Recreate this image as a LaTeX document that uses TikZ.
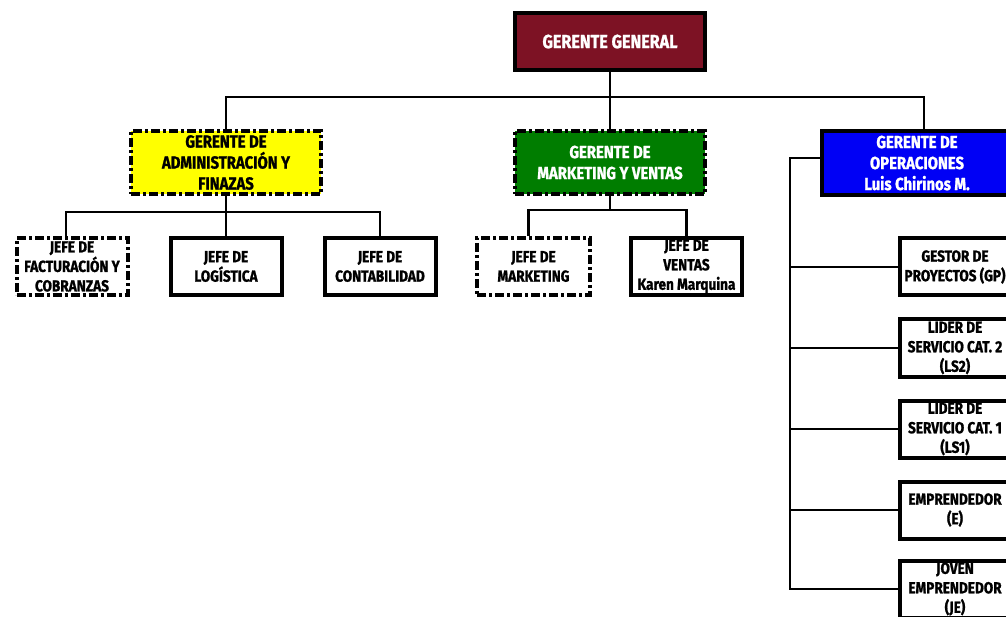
\documentclass[tikz,border=0pt]{standalone}
\usepackage{fontspec}
\setmainfont{Fira Sans}[FakeStretch=0.85, BoldFeatures={FakeBold=1.2}]
\usetikzlibrary{positioning}
\definecolor{ogmaroon}{RGB}{125,18,36}
\definecolor{ogyellow}{RGB}{255,255,0}
\definecolor{oggreen}{RGB}{0,125,0}
\definecolor{ogblue}{RGB}{0,0,245}

\begin{document}
\begin{tikzpicture}[
  x=1pt, y=-1pt,
  box/.style={draw=black, line width=4pt, fill=white, align=center, font=\fontsize{16}{19.5}\selectfont\bfseries, inner sep=1pt, minimum width=111pt, minimum height=57pt},
  head/.style={box, font=\fontsize{17.5}{21}\selectfont\bfseries, minimum width=190pt, minimum height=63pt},
  vacant/.style={dash pattern=on 9pt off 3pt on 3pt off 3pt},
  link/.style={line width=2.8pt}
]
\useasboundingbox (0,0) rectangle (1006,617);
\clip (0,0) rectangle (1006,617);
\node[head, fill=ogmaroon, text=white, font=\fontsize{19}{23}\selectfont\bfseries, minimum height=57pt] (gg) at (610,41.5) {GERENTE GENERAL};
\node[head, vacant, fill=ogyellow] (adm) at (226,162.5) {GERENTE DE\\ADMINISTRACIÓN Y\\FINAZAS};
\node[head, vacant, fill=oggreen, text=white] (mkt) at (610,162.5) {GERENTE DE\\MARKETING Y VENTAS};
\node[head, fill=ogblue, text=white, minimum height=64pt] (ops) at (917,163) {GERENTE DE\\OPERACIONES\\Luis Chirinos M.};
% administracion
\node[box, below=40pt of adm] (log) {JEFE DE\\LOGÍSTICA};
\node[box, vacant, left=39pt of log] (fac) {JEFE DE\\FACTURACIÓN Y\\COBRANZAS};
\node[box, right=39pt of log] (con) {JEFE DE\\CONTABILIDAD};
% marketing
\node[box, vacant, below left=40pt and 18pt of mkt.south, minimum width=113pt] (jmk) {JEFE DE\\MARKETING};
\node[box, below right=40pt and 19pt of mkt.south] (jve) {JEFE DE\\VENTAS\\Karen Marquina};
% operaciones
\node[box] (gp) at (955,267) {GESTOR DE\\PROYECTOS (GP)};
\node[box, below=20pt of gp] (ls2) {LIDER DE\\SERVICIO CAT. 2\\(LS2)};
\node[box, below=20pt of ls2] (ls1) {LIDER DE\\SERVICIO CAT. 1\\(LS1)};
\node[box, below=20pt of ls1] (emp) {EMPRENDEDOR\\(E)};
\node[box, below=18pt of emp] (jem) {JOVEN\\EMPRENDEDOR\\(JE)};
\coordinate (top) at (610,97);
\coordinate (admbus) at (226,212);
\coordinate (mktbus) at (610,210);
\draw[link] (gg) -- (top);
\draw[link] (adm.north) |- (top) -| ([xshift=7pt]ops.north);
\draw[link] (top) -- (mkt);
\draw[link] (adm) -- (admbus);
\draw[link] ([xshift=-6pt]fac.north) |- (admbus) -| (con.north);
\draw[link] (log) -- (admbus);
\draw[link] (mkt) -- (mktbus);
\draw[link] ([xshift=-5pt]jmk.north) |- (mktbus) -| (jve.north);
\draw[link] ([yshift=5pt]ops.west) -- ++(-30,0) coordinate (opsbus) |- (jem.west);
\foreach \n in {gp,ls2,ls1,emp}
  \draw[link] (\n.west) -- (\n.west -| opsbus);
\end{tikzpicture}
\end{document}
